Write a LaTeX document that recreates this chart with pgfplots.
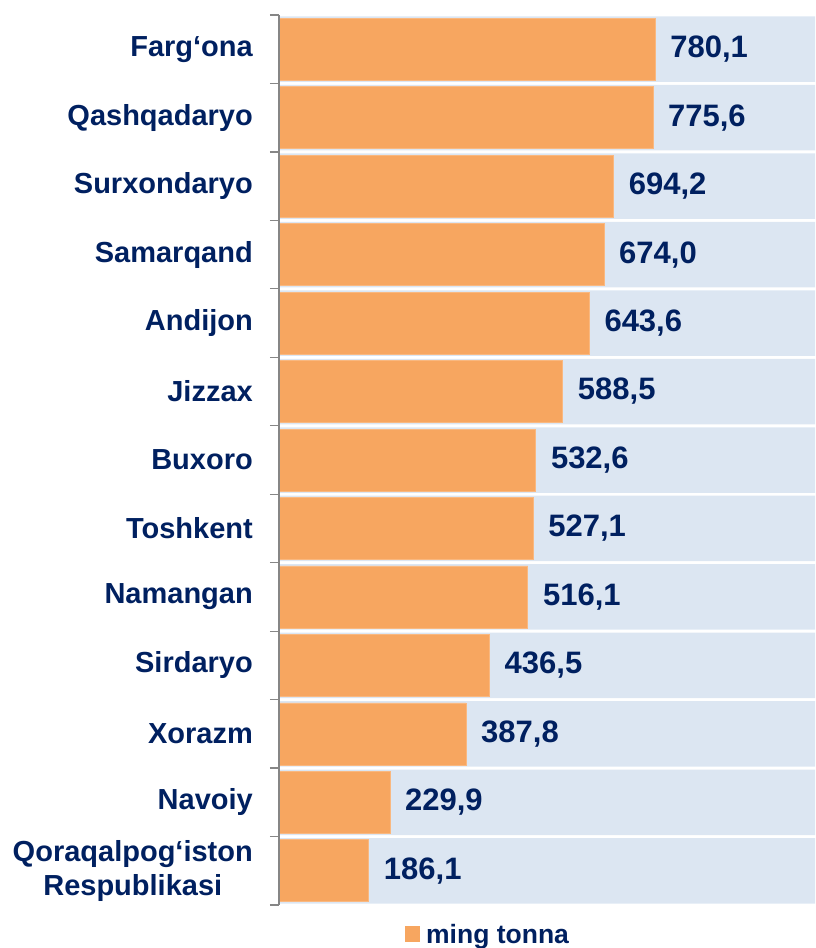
\documentclass[border=0pt]{standalone}
\usepackage{fontspec}
\setmainfont{Liberation Sans}
\usepackage{pgfplots}
\pgfplotsset{compat=1.18}
\definecolor{barorange}{RGB}{247,166,96}
\definecolor{bgblue}{RGB}{220,230,242}
\definecolor{navy}{RGB}{0,32,96}
\definecolor{axgray}{RGB}{134,134,134}
\begin{document}
\begin{tikzpicture}
\begin{axis}[
  scale only axis, width=536pt, height=890pt,
  xmin=0, xmax=1112,
  ymin=-0.5, ymax=12.5, y dir=reverse,
  hide x axis,
  axis y line*=left,
  axis on top,
  ytick={0,...,12},
  yticklabels={Farg‘ona,Qashqadaryo,Surxondaryo,Samarqand,Andijon,Jizzax,Buxoro,Toshkent,Namangan,Sirdaryo,Xorazm,Navoiy,{Qoraqalpog‘iston\\Respublikasi}},
  major tick length=0pt,
  minor ytick={-0.5,0.5,...,12.5},
  minor tick length=9pt,
  tick align=outside,
  y axis line style={axgray, line width=1.2pt},
  minor tick style={axgray, line width=1.2pt},
  yticklabel style={font=\fontsize{29}{34}\selectfont\bfseries, text=navy, align=center, inner sep=0pt, anchor=east, xshift=-26pt},
  legend style={at={(0.235,-0.033)}, anchor=west, draw=none, fill=none, inner sep=0pt, font=\fontsize{26.5}{30}\selectfont\bfseries, text=navy},
]
\addplot[xbar, bar width=65.5pt, bar shift=0pt, fill=bgblue, draw=none, forget plot] coordinates {
(1112,0) (1112,1) (1112,2) (1112,3) (1112,4) (1112,5) (1112,6) (1112,7) (1112,8) (1112,9) (1112,10) (1112,11) (1112,12)};
\addplot[xbar, bar width=62pt, bar shift=0pt, fill=barorange, draw=barorange!80!white, line width=0.6pt,
  legend image code/.code={\fill[barorange, draw=none] (0pt,-8pt) rectangle (15pt,8pt); \node[inner sep=0pt, minimum size=0pt, draw=none, fill=none] at (19pt,0pt) {};},
  point meta=x,
  nodes near coords={\pgfmathprintnumber[fixed,fixed zerofill,precision=1,use comma,assume math mode=true]{\pgfplotspointmeta}},
  every node near coord/.append style={font=\fontsize{31}{34}\selectfont\bfseries, text=navy, anchor=west, inner sep=0pt, xshift=15pt}]
coordinates {
(780.1,0) (775.6,1) (694.2,2) (674.0,3) (643.6,4) (588.5,5) (532.6,6) (527.1,7) (516.1,8) (436.5,9) (387.8,10) (229.9,11) (186.1,12)};
\addlegendentry{ming tonna}
\end{axis}
\pgfresetboundingbox
\path[use as bounding box] (-279pt,-43pt) rectangle (536pt,905pt);
\end{tikzpicture}
\end{document}
